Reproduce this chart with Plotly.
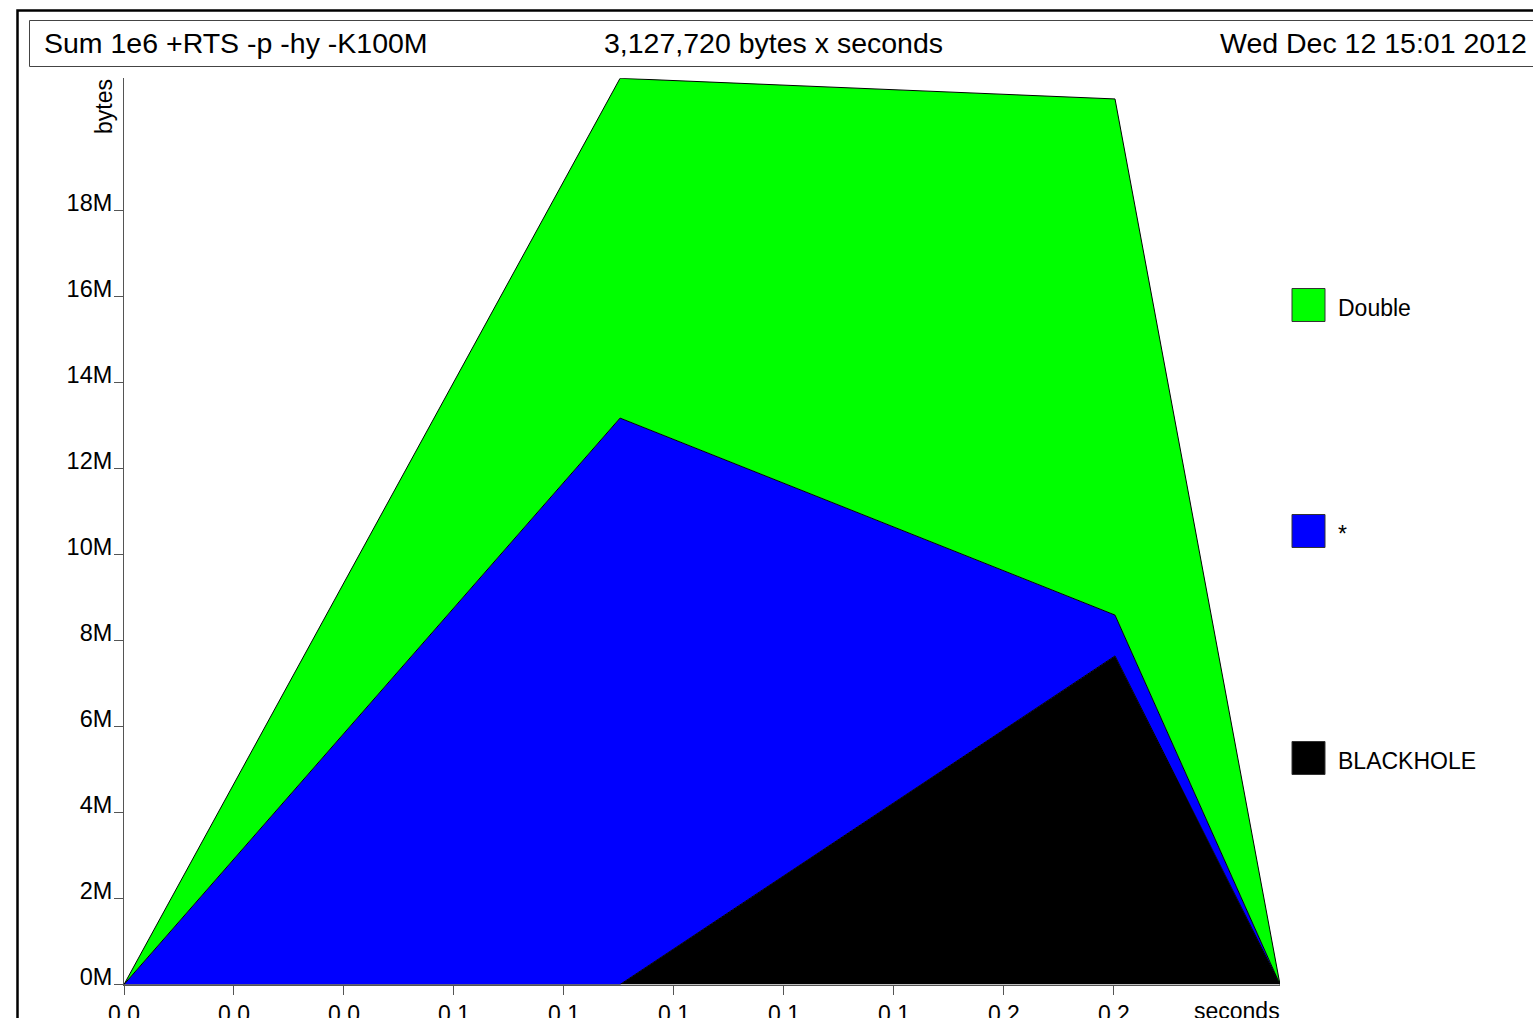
import plotly.graph_objects as go

# ---------------- data ----------------
time_s = [0.0, 0.0902, 0.1802, 0.2102]
blackhole_bytes = [0.0, 0.0, 7.64e6, 0.0]
star_bytes = [0.0, 13.17e6, 0.95e6, 0.0]
double_bytes = [0.0, 7.90e6, 12.00e6, 0.0]

series_names = ["BLACKHOLE", "*", "Double"]          # bottom -> top
series_values = [blackhole_bytes, star_bytes, double_bytes]
series_colors = ["#000000", "#0000FF", "#00FF00"]

x_tick_vals = [0.0, 0.02, 0.04, 0.06, 0.08, 0.10, 0.12, 0.14, 0.16, 0.18]
x_tick_text = ["0.0", "0.0", "0.0", "0.1", "0.1", "0.1", "0.1", "0.1", "0.2", "0.2"]
y_tick_vals = [0, 2e6, 4e6, 6e6, 8e6, 10e6, 12e6, 14e6, 16e6, 18e6]
y_tick_text = ["0M", "2M", "4M", "6M", "8M", "10M", "12M", "14M", "16M", "18M"]

header_left = "Sum 1e6 +RTS -p -hy -K100M"
header_mid = "3,127,720 bytes x seconds"
header_right = "Wed Dec 12 15:01 2012"
x_title = "seconds"
y_title = "bytes"

# ---------------- layout helpers ----------------
W, H = 1533, 1018
FONT = "Liberation Sans, Arial, Helvetica, sans-serif"


def px(x):
    return x / W


def py(y):
    return 1 - y / H


fig = go.Figure()
for name, vals, col in zip(series_names, series_values, series_colors):
    fig.add_trace(go.Scatter(
        x=time_s, y=vals, name=name, mode="lines",
        stackgroup="heap", fillcolor=col,
        line=dict(color="#000000", width=1),
        showlegend=False,
    ))

shapes = [
    # outer frame
    dict(type="rect", xref="paper", yref="paper",
         x0=px(17.5), x1=px(1600), y0=py(10.5), y1=py(1100),
         line=dict(color="#000000", width=2.5), fillcolor="rgba(0,0,0,0)", layer="above"),
    # header box
    dict(type="rect", xref="paper", yref="paper",
         x0=px(29.5), x1=px(1600), y0=py(20.5), y1=py(66.5),
         line=dict(color="#444444", width=1), fillcolor="rgba(0,0,0,0)", layer="above"),
]

annotations = [
    dict(text=header_left, x=px(42), y=py(43), xref="paper", yref="paper",
         xanchor="left", yanchor="middle", showarrow=False, font=dict(size=28.5)),
    dict(text=header_mid, x=px(773), y=py(43), xref="paper", yref="paper",
         xanchor="center", yanchor="middle", showarrow=False, font=dict(size=28.5)),
    dict(text=header_right, x=px(1529), y=py(43), xref="paper", yref="paper",
         xanchor="right", yanchor="middle", showarrow=False, font=dict(size=28.5)),
    dict(text=y_title, x=px(104), y=py(107), xref="paper", yref="paper",
         xanchor="center", yanchor="middle", textangle=-90, showarrow=False,
         font=dict(size=23)),
    dict(text=x_title, x=px(1282), y=py(1011), xref="paper", yref="paper",
         xanchor="right", yanchor="middle", showarrow=False, font=dict(size=23)),
]

# legend (hp2ps style: top band first)
legend_centers = [305, 531, 758]
for (name, col), cy in zip(list(zip(series_names, series_colors))[::-1], legend_centers):
    shapes.append(dict(type="rect", xref="paper", yref="paper",
                       x0=px(1292), x1=px(1325), y0=py(cy - 16.5), y1=py(cy + 16.5),
                       fillcolor=col, line=dict(color="#333333", width=1)))
    annotations.append(dict(text=name, x=px(1336), y=py(cy + 3), xref="paper", yref="paper",
                            xanchor="left", yanchor="middle", showarrow=False,
                            font=dict(size=23)))

fig.update_layout(
    width=W, height=H,
    margin=dict(l=0, r=0, t=0, b=0, autoexpand=False),
    paper_bgcolor="white", plot_bgcolor="white",
    font=dict(family=FONT, color="#000000"),
    shapes=shapes, annotations=annotations,
    showlegend=False,
    xaxis=dict(domain=[px(124), px(1280)], range=[0, 0.2102],
               tickmode="array", tickvals=x_tick_vals, ticktext=x_tick_text,
               ticks="outside", ticklen=9, tickwidth=1, tickcolor="#555555",
               showline=True, linecolor="#555555", linewidth=1,
               showgrid=False, zeroline=False, tickfont=dict(size=23),
               automargin=False),
    yaxis=dict(domain=[py(984.5), py(78.3)], range=[0, 21.07e6],
               tickmode="array", tickvals=y_tick_vals, ticktext=y_tick_text,
               ticks="outside", ticklen=9, tickwidth=1, tickcolor="#555555",
               showline=True, linecolor="#555555", linewidth=1,
               showgrid=False, zeroline=False, tickfont=dict(size=23.5),
               ticklabelshift=-8, ticklabelstandoff=-3, automargin=False),
)

fig.write_html("out.html",
               config={"displayModeBar": False},
               post_script="document.body.style.margin='0';document.body.style.overflow='hidden';")
